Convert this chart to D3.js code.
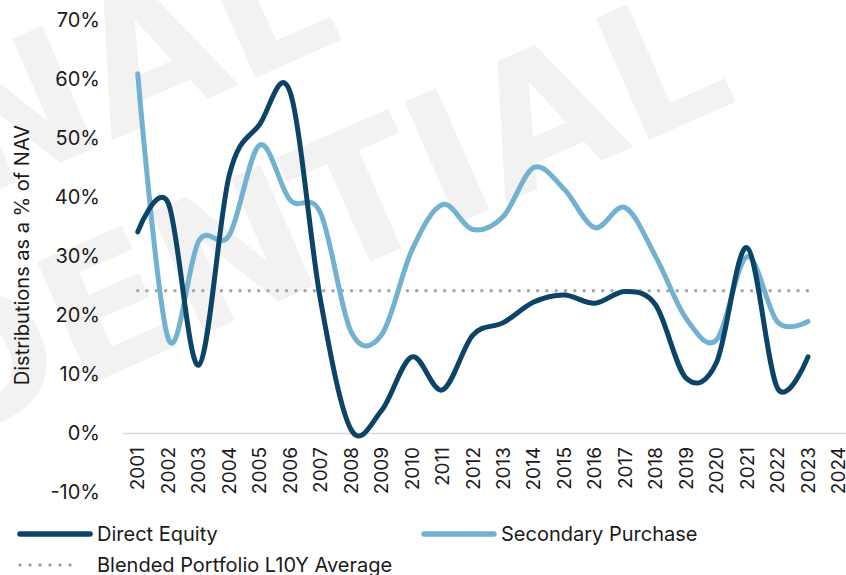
<!DOCTYPE html>
<html>
<head>
<meta charset="utf-8">
<script src="https://cdn.jsdelivr.net/npm/d3@7"></script>
<style>
  html, body { margin: 0; padding: 0; background: #fff; }
  svg { display: block; font-family: Inter, "Liberation Sans", sans-serif; }
</style>
</head>
<body>
<div id="chart"></div>
<script>
// categories (x axis)
var years = ["2001","2002","2003","2004","2005","2006","2007","2008","2009","2010","2011","2012",
             "2013","2014","2015","2016","2017","2018","2019","2020","2021","2022","2023","2024"];

// distributions as % of NAV, 2001..2023
var directEquity = [34.1, 39.0, 11.5, 43.6, 52.3, 57.8, 22.5, 0.6, 3.8, 12.9, 7.3, 16.6,
                    18.7, 22.2, 23.4, 22.0, 24.0, 21.7, 9.3, 12.0, 31.4, 7.6, 12.9];
var secondaryPurchase = [60.9, 16.0, 32.5, 33.5, 48.8, 39.5, 37.3, 17.2, 16.6, 31.0, 38.7, 34.5,
                         36.7, 45.0, 41.3, 34.8, 38.2, 29.9, 19.4, 15.8, 29.9, 18.8, 18.9];
var blendedAvg = 24.1;

var yTicks = [-10, 0, 10, 20, 30, 40, 50, 60, 70];

var W = 846, H = 575;
var svg = d3.select("#chart").append("svg")
    .attr("width", W)
    .attr("height", H);

// watermark, behind everything
var wm = svg.append("g")
    .attr("fill", "#f2f2f2")
    .style("font-family", "'DejaVu Sans', sans-serif")
    .style("font-weight", "bold")
    .style("font-size", "182px");
wm.append("text")
    .attr("text-anchor", "end")
    .attr("transform", "translate(346,38) rotate(-23.6)")
    .text("PERSONAL");
wm.append("text")
    .attr("text-anchor", "end")
    .attr("transform", "translate(740,100) rotate(-23.6)")
    .text("CONFIDENTIAL");

var x = d3.scaleBand()
    .domain(years)
    .range([122.5, 853.7])
    .padding(0);
var cx = function(d) { return x(d) + x.bandwidth() / 2; };

var y = d3.scaleLinear()
    .domain([-10, 70])
    .range([492, 20]);

// y axis labels
var yAxis = svg.append("g")
    .attr("transform", "translate(103,0)")
    .call(d3.axisLeft(y).tickValues(yTicks).tickSize(0).tickPadding(3)
        .tickFormat(function(d) { return d + "%"; }));
yAxis.select(".domain").remove();
yAxis.selectAll("text")
    .attr("fill", "#1a1a1a")
    .style("font-family", "Inter, sans-serif")
    .style("font-size", "20px");

// x axis on the zero line
var xAxis = svg.append("g")
    .attr("transform", "translate(0," + y(0) + ")")
    .call(d3.axisBottom(x).tickSize(0));
xAxis.select(".domain")
    .attr("stroke", "#d9d9d9")
    .attr("stroke-width", 1.5);
xAxis.selectAll("text")
    .attr("transform", "rotate(-90)")
    .attr("x", -14)
    .attr("y", 0)
    .attr("dy", "0.35em")
    .style("text-anchor", "end")
    .attr("fill", "#1a1a1a")
    .style("font-family", "Inter, sans-serif")
    .style("font-size", "19px");

// axis title
svg.append("text")
    .attr("transform", "translate(29,255) rotate(-90)")
    .attr("text-anchor", "middle")
    .attr("fill", "#1a1a1a")
    .style("font-size", "20px")
    .text("Distributions as a % of NAV");

var dataYears = years.slice(0, 23);
var line = d3.line()
    .x(function(d) { return cx(d.year); })
    .y(function(d) { return y(d.value); })
    .curve(d3.curveCatmullRom.alpha(0));

var toPts = function(arr) {
  return arr.map(function(v, i) { return {year: dataYears[i], value: v}; });
};

// blended average (dotted)
svg.append("path")
    .attr("d", d3.line()
        .x(function(d) { return cx(d.year); })
        .y(function(d) { return y(d.value); })(toPts(dataYears.map(function() { return blendedAvg; }))))
    .attr("fill", "none")
    .attr("stroke", "#a6a6a6")
    .attr("stroke-width", 3.5)
    .attr("stroke-linecap", "round")
    .attr("stroke-dasharray", "0 9.3");

svg.append("path")
    .attr("d", line(toPts(secondaryPurchase)))
    .attr("fill", "none")
    .attr("stroke", "#72b1d0")
    .attr("stroke-width", 5)
    .attr("stroke-linecap", "round")
    .attr("stroke-linejoin", "round");

svg.append("path")
    .attr("d", line(toPts(directEquity)))
    .attr("fill", "none")
    .attr("stroke", "#0b4467")
    .attr("stroke-width", 5)
    .attr("stroke-linecap", "round")
    .attr("stroke-linejoin", "round");

// legend
var legend = [
  {name: "Direct Equity", color: "#0b4467", dash: null, x: 20, y: 534, len: 70},
  {name: "Secondary Purchase", color: "#72b1d0", dash: null, x: 424, y: 534, len: 70},
  {name: "Blended Portfolio L10Y Average", color: "#a6a6a6", dash: "0 10", x: 20, y: 565, len: 60}
];
var lg = svg.append("g").selectAll("g").data(legend).enter().append("g");
lg.append("line")
    .attr("x1", function(d) { return d.x; })
    .attr("x2", function(d) { return d.x + d.len; })
    .attr("y1", function(d) { return d.y; })
    .attr("y2", function(d) { return d.y; })
    .attr("stroke", function(d) { return d.color; })
    .attr("stroke-width", function(d) { return d.dash ? 3.5 : 5.5; })
    .attr("stroke-linecap", "round")
    .attr("stroke-dasharray", function(d) { return d.dash; });
lg.append("text")
    .attr("x", function(d) { return d.x + 77; })
    .attr("y", function(d) { return d.y; })
    .attr("dy", "0.35em")
    .attr("fill", "#1a1a1a")
    .style("font-size", "20px")
    .text(function(d) { return d.name; });
</script>
</body>
</html>
